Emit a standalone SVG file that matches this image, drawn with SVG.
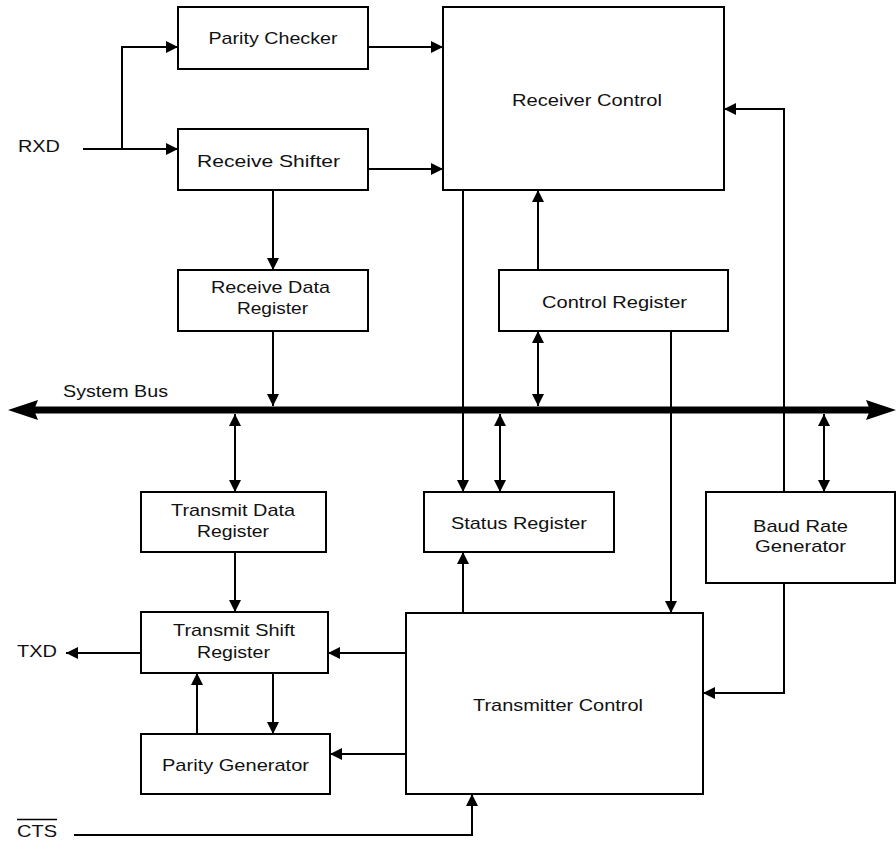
<svg xmlns="http://www.w3.org/2000/svg" width="896" height="841" viewBox="0 0 896 841">
<style>
.box{fill:#fff;stroke:#000;stroke-width:2}
.lbl{font-family:"Liberation Sans",Arial,sans-serif;font-size:17px;fill:#111;text-anchor:middle}
.lft{text-anchor:start}
.c{fill:none;stroke:#000;stroke-width:2}
.a{marker-end:url(#ah)}
.b{marker-start:url(#ah);marker-end:url(#ah)}
</style>
<defs>
<marker id="ah" markerUnits="userSpaceOnUse" markerWidth="12" markerHeight="12" refX="12" refY="6" orient="auto-start-reverse">
<path d="M0,0 L12,6 L0,12 z" fill="#000"/>
</marker>
</defs>
<rect width="896" height="841" fill="#fff"/>
<g id="connectors">
<path class="c a" d="M83,149 H178"/>
<path class="c a" d="M122,149 V47 H178"/>
<path class="c a" d="M368,47 H443"/>
<path class="c a" d="M368,169 H443"/>
<path class="c a" d="M273,190 V270"/>
<path class="c a" d="M273,331 V406"/>
<path class="c b" d="M235,414 V492"/>
<path class="c a" d="M235,552 V612"/>
<path class="c a" d="M141,653 H66"/>
<path class="c a" d="M406,653 H328"/>
<path class="c a" d="M406,754 H330"/>
<path class="c a" d="M197,734 V673"/>
<path class="c a" d="M273,673 V734"/>
<path class="c a" d="M74,835 H472 V794"/>
<path class="c a" d="M463,190 V492"/>
<path class="c b" d="M500,414 V492"/>
<path class="c a" d="M463,613 V552"/>
<path class="c a" d="M538,270 V190"/>
<path class="c b" d="M538,331 V406"/>
<path class="c a" d="M671,331 V613"/>
<path class="c a" d="M784,492 V109 H724"/>
<path class="c a" d="M784,583 V693 H703"/>
<path class="c b" d="M824,414 V492"/>
</g>
<g id="system-bus">
<line x1="34" y1="410" x2="870" y2="410" stroke="#000" stroke-width="7"/>
<polygon points="8,410 38,400 34,410 38,420" fill="#000"/>
<polygon points="896,410 866,400 870,410 866,420" fill="#000"/>
<text class="lbl lft" x="63" y="397" textLength="105" lengthAdjust="spacingAndGlyphs">System Bus</text>
</g>
<g id="rxd"><text class="lbl lft" x="18" y="152" textLength="42" lengthAdjust="spacingAndGlyphs">RXD</text></g>
<g id="txd"><text class="lbl lft" x="17" y="657" textLength="40" lengthAdjust="spacingAndGlyphs">TXD</text></g>
<g id="cts"><text class="lbl lft" x="17" y="837" textLength="40" lengthAdjust="spacingAndGlyphs">CTS</text>
<line x1="17" y1="819.5" x2="57" y2="819.5" stroke="#000" stroke-width="1.5"/></g>
<g id="parity-checker"><rect class="box" x="178" y="7" width="190" height="62"/>
<text class="lbl" x="273" y="44" textLength="129" lengthAdjust="spacingAndGlyphs">Parity Checker</text></g>
<g id="receive-shifter"><rect class="box" x="178" y="129" width="190" height="61"/>
<text class="lbl" x="268.5" y="167" textLength="143" lengthAdjust="spacingAndGlyphs">Receive Shifter</text></g>
<g id="receiver-control"><rect class="box" x="443" y="7" width="281" height="183"/>
<text class="lbl" x="587" y="106" textLength="150" lengthAdjust="spacingAndGlyphs">Receiver Control</text></g>
<g id="receive-data-register"><rect class="box" x="178" y="270" width="190" height="61"/>
<text class="lbl" x="270.5" y="293" textLength="119" lengthAdjust="spacingAndGlyphs">Receive Data</text>
<text class="lbl" x="272.5" y="314" textLength="71" lengthAdjust="spacingAndGlyphs">Register</text></g>
<g id="control-register"><rect class="box" x="499" y="270" width="229" height="61"/>
<text class="lbl" x="614.5" y="308" textLength="145" lengthAdjust="spacingAndGlyphs">Control Register</text></g>
<g id="transmit-data-register"><rect class="box" x="141" y="492" width="185" height="60"/>
<text class="lbl" x="233" y="516" textLength="124" lengthAdjust="spacingAndGlyphs">Transmit Data</text>
<text class="lbl" x="233" y="537" textLength="72" lengthAdjust="spacingAndGlyphs">Register</text></g>
<g id="status-register"><rect class="box" x="424" y="492" width="190" height="60"/>
<text class="lbl" x="519" y="529" textLength="136" lengthAdjust="spacingAndGlyphs">Status Register</text></g>
<g id="baud-rate-generator"><rect class="box" x="706" y="492" width="189" height="91"/>
<text class="lbl" x="800.5" y="532" textLength="95" lengthAdjust="spacingAndGlyphs">Baud Rate</text>
<text class="lbl" x="800.5" y="552" textLength="91" lengthAdjust="spacingAndGlyphs">Generator</text></g>
<g id="transmit-shift-register"><rect class="box" x="141" y="612" width="187" height="61"/>
<text class="lbl" x="234" y="636" textLength="122" lengthAdjust="spacingAndGlyphs">Transmit Shift</text>
<text class="lbl" x="233.5" y="658" textLength="73" lengthAdjust="spacingAndGlyphs">Register</text></g>
<g id="parity-generator"><rect class="box" x="141" y="734" width="189" height="60"/>
<text class="lbl" x="235.5" y="771" textLength="147" lengthAdjust="spacingAndGlyphs">Parity Generator</text></g>
<g id="transmitter-control"><rect class="box" x="406" y="613" width="297" height="181"/>
<text class="lbl" x="558" y="711" textLength="170" lengthAdjust="spacingAndGlyphs">Transmitter Control</text></g>
</svg>
